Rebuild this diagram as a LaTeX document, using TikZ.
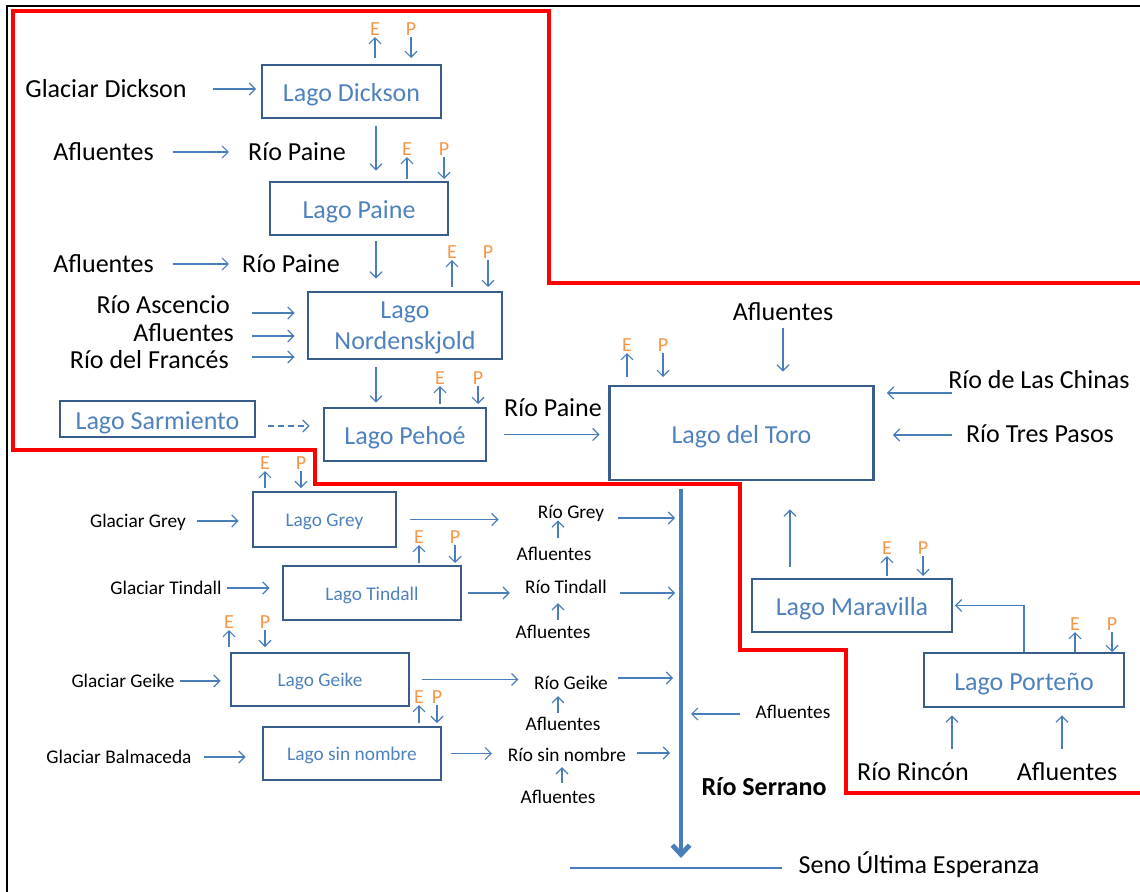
\documentclass[tikz,border=0pt]{standalone}
\usepackage{fontspec}
\setmainfont{Carlito}
\usepackage{tikz}
\usetikzlibrary{arrows.meta}

\definecolor{borde}{RGB}{56,93,138}
\definecolor{lagotxt}{RGB}{79,129,189}
\definecolor{flecha}{RGB}{74,126,187}
\definecolor{evap}{RGB}{247,150,70}
\newcommand{\grande}{\fontsize{19.5pt}{23pt}\selectfont}
\newcommand{\chico}{\fontsize{14.5pt}{17pt}\selectfont}
\newcommand{\letra}{\fontsize{15pt}{17pt}\selectfont}

\begin{document}
\begin{tikzpicture}[x=0.75pt,y=-0.75pt,
  >={Straight Barb[length=4.5pt,width=9pt]},
  flujo/.style={->,draw=flecha,line width=0.9pt},
  tronco/.style={-{Straight Barb[length=7pt,width=13pt]},draw=flecha,line width=3.6pt},
  lago/.style 2 args={draw=borde,line width=2.2pt,text=lagotxt,align=center,
    minimum width=#1*0.75pt,minimum height=#2*0.75pt,inner sep=0pt,font=\grande,
    text height=16pt,text depth=0.8pt},
  lagochico/.style={font=\chico,text height=11.5pt,text depth=0.5pt},
  texto/.style={inner sep=0pt,text height=15pt,text depth=2pt,font=\grande},
  txtchico/.style={inner sep=0pt,text height=11pt,text depth=1.25pt,font=\chico},
  ep/.style={text=evap,inner sep=1pt,font=\letra}]
\useasboundingbox (0,0) rectangle (1140,892);
\draw[line width=1.5pt] (7,892) -- (7,6) -- (1140,6);
\draw[red,line width=2.4pt] (1140,283) -- (549,283) -- (549,11) -- (13,11) -- (13,450)
  -- (315,450) -- (315,484) -- (740,484) -- (740,650) -- (846,650) -- (846,793) -- (1140,793);

\node[lago={179}{53}] (ldickson) at (351.5,91.5) {Lago Dickson};
\node[lago={178}{53}] (lpaine) at (359,208.5) {Lago Paine};
\node[lago={194}{67},text height=37.5pt,text depth=1.3pt] (lnorden) at (405,325.5) {Lago\\Nordenskjold};
\node[lago={195}{36}] (lsarm) at (157.5,419) {Lago Sarmiento};
\node[lago={162}{53}] (lpehoe) at (405,434.5) {Lago Pehoé};
\node[lago={264}{94}] (ltoro) at (741.5,433) {Lago del Toro};
\node[lago={143}{55},lagochico] (lgrey) at (324.5,519.5) {Lago Grey};
\node[lago={178}{54},lagochico] (ltindall) at (372,593) {Lago Tindall};
\node[lago={178}{53},lagochico] (lgeike) at (320,679.5) {Lago Geike};
\node[lago={178}{53},lagochico] (lsin) at (352,753.5) {Lago sin nombre};
\node[lago={200}{53}] (lmarav) at (852,605.5) {Lago Maravilla};
\node[lago={200}{54}] (lporte) at (1024,680) {Lago Porteño};

\node[texto] (gdickson) at (106,89) {Glaciar Dickson};
\node[texto] (afl1) at (103.5,152) {Afluentes};
\node[texto] (rpaine1) at (297,152) {Río Paine};
\node[texto] (afl2) at (103.5,264) {Afluentes};
\node[texto] (rpaine2) at (291,264) {Río Paine};
\node[texto,anchor=east] (rascen) at (230,305) {Río Ascencio};
\node[texto,anchor=east] (aflno) at (234,333) {Afluentes};
\node[texto,anchor=east] (rfrances) at (229,360) {Río del Francés};
\node[texto] (rpaine3) at (553,408) {Río Paine};
\node[texto] (aflto) at (783,312) {Afluentes};
\node[texto] (rchinas) at (1039,380) {Río de Las Chinas};
\node[texto] (rtres) at (1040,434) {Río Tres Pasos};
\node[texto] (rrincon) at (913,772) {Río Rincón};
\node[texto] (aflpo) at (1067,772) {Afluentes};
\node[texto,font=\grande\bfseries] (rserrano) at (764,787) {Río Serrano};
\node[texto] (seno) at (919,865) {Seno Última Esperanza};

\node[txtchico] (ggrey) at (138,521) {Glaciar Grey};
\node[txtchico] (rgrey) at (571,512) {Río Grey};
\node[txtchico] (aflgr) at (554,554) {Afluentes};
\node[txtchico] (gtindall) at (166,588) {Glaciar Tindall};
\node[txtchico] (rtindall) at (566,587) {Río Tindall};
\node[txtchico] (afltin) at (553,632) {Afluentes};
\node[txtchico] (ggeike) at (123,681) {Glaciar Geike};
\node[txtchico] (rgeike) at (571,683) {Río Geike};
\node[txtchico] (aflge) at (563,724) {Afluentes};
\node[txtchico] (gbalma) at (119,757) {Glaciar Balmaceda};
\node[txtchico] (rsin) at (567,755) {Río sin nombre};
\node[txtchico] (aflsin) at (558,797) {Afluentes};
\node[txtchico] (afltr) at (793,712) {Afluentes};

\foreach \n/\xe/\xp/\ya/\yl in {ldickson/375/411/58/29, lpaine/407/444/179/149,
    lnorden/452/488/287/252, lpehoe/440/478/404/378, ltoro/627/663/377/345,
    lgrey/265/301/488/463, ltindall/419/455/563/537, lgeike/229/265/647/622,
    lsin/419/437/723/697, lmarav/887/923/576/548, lporte/1075/1112/652/624}{
  \node[ep] (e\n) at (\xe,\yl) {E};
  \node[ep] (p\n) at (\xp,\yl) {P};
  \coordinate (be\n) at (\xe,\ya);
  \coordinate (bp\n) at (\xp,\ya);
  \draw[flujo] (be\n) -- (e\n);
  \draw[flujo] (p\n) -- (bp\n);
}

\coordinate (eje) at (376,0);
\coordinate (rs) at (681,858);
\draw[flujo,shorten <=19.5pt,shorten >=3.4pt] (gdickson.east) -- (gdickson.east -| ldickson.west);
\draw[flujo,shorten <=5.25pt,shorten >=7.5pt] (eje |- ldickson.south) -- (eje |- lpaine.north);
\draw[flujo,shorten <=3.75pt,shorten >=9pt] (eje |- lpaine.south) -- (eje |- lnorden.north);
\draw[flujo,shorten <=5.25pt,shorten >=3pt] (eje |- lnorden.south) -- (eje |- lpehoe.north);
\draw[flujo,shorten <=14.25pt,shorten >=14.25pt] (afl1) -- (rpaine1);
\draw[flujo,shorten <=14.25pt,shorten >=9.75pt] (afl2) -- (rpaine2);
\draw[flujo] ([shift={(22,8)}]rascen.east) -- ([shift={(-12,8)}]rascen.east -| lnorden.west);
\draw[flujo] ([shift={(18,3)}]aflno.east) -- ([shift={(-12,3)}]aflno.east -| lnorden.west);
\draw[flujo] ([shift={(23,-3)}]rfrances.east) -- ([shift={(-12,-3)}]rfrances.east -| lnorden.west);
\draw[flujo,dash pattern=on 4.5pt off 3pt] ([shift={(12,7)}]lsarm.east) -- ([shift={(-13,7)}]lsarm.east -| lpehoe.west);
\draw[flujo,shorten <=12.75pt,shorten >=6.4pt] (lpehoe.east) -- (lpehoe.east -| ltoro.west);
\draw[flujo,shorten <=3.5pt,shorten >=9.75pt] (aflto.south) -- (aflto.south |- ltoro.north);
\draw[flujo] ([shift={(4,13)}]rchinas.west) -- ([shift={(12,13)}]rchinas.west -| ltoro.east);
\draw[flujo] ([shift={(-14,1)}]rtres.west) -- ([shift={(18,1)}]rtres.west -| ltoro.east);

\draw[tronco,shorten <=6pt] (rs |- ltoro.south) -- (rs);
\draw[draw=flecha,line width=1pt] ([shift={(-16,3)}]seno.west) -- ++(-212,0);

\draw[flujo,shorten <=8.25pt,shorten >=9.75pt] (ggrey.east) -- (ggrey.east -| lgrey.west);
\draw[flujo,shorten <=9.75pt,shorten >=29.25pt] (lgrey.east) -- (lgrey.east -| rgrey.west);
\draw[flujo] ([shift={(14,6)}]rgrey.east) -- ([shift={(-6,6)}]rgrey.east -| rs);
\draw[flujo,shorten <=5.8pt] ([xshift=3pt]aflgr.north) -- ([xshift=3pt]aflgr.north |- rgrey.south);

\draw[flujo,shorten <=3.5pt,shorten >=9pt] (gtindall.east) -- (gtindall.east -| ltindall.west);
\draw[flujo,shorten <=4.5pt,shorten >=11.25pt] (ltindall.east) -- (ltindall.east -| rtindall.west);
\draw[flujo] ([shift={(13,6)}]rtindall.east) -- ([shift={(-6,6)}]rtindall.east -| rs);
\draw[flujo,shorten <=2.8pt,shorten >=5.8pt] ([xshift=3.75pt]afltin.north) -- ([xshift=3.75pt]afltin.north |- rtindall.south);

\draw[flujo,shorten <=3.75pt,shorten >=6.75pt] (ggeike.east) -- (ggeike.east -| lgeike.west);
\draw[flujo,shorten <=9pt,shorten >=11.7pt] (lgeike.east) -- (lgeike.east -| rgeike.west);
\draw[flujo] ([shift={(10,-5)}]rgeike.east) -- ([shift={(-8,-5)}]rgeike.east -| rs);
\draw[flujo,shorten <=2pt,shorten >=3.5pt] ([xshift=-3.75pt]aflge.north) -- ([xshift=-3.75pt]aflge.north |- rgeike.south);

\draw[flujo,shorten <=9.4pt,shorten >=12pt] (gbalma.east) -- (gbalma.east -| lsin.west);
\draw[flujo,shorten <=6.75pt,shorten >=11.8pt] (lsin.east) -- (lsin.east -| rsin.west);
\draw[flujo] ([shift={(11,-2)}]rsin.east) -- ([shift={(-11,-2)}]rsin.east -| rs);
\draw[flujo,shorten <=4.3pt,shorten >=2.8pt] ([xshift=3pt]aflsin.north) -- ([xshift=3pt]aflsin.north |- rsin.south);

\draw[flujo] ([shift={(-15,2)}]afltr.west) -- ([shift={(10,2)}]afltr.west -| rs);

\draw[flujo,shorten <=8.25pt,shorten >=21pt] ([xshift=-46.5pt]lmarav.north) -- ([xshift=-46.5pt]lmarav.north |- ltoro.south);
\draw[flujo,shorten >=1pt] (lporte.north) |- (lmarav.east);
\draw[flujo,shorten <=8.8pt,shorten >=5.25pt] ([xshift=29.25pt]rrincon.north) -- ([xshift=29.25pt]rrincon.north |- lporte.south);
\draw[flujo,shorten <=8.8pt,shorten >=5.25pt] ([xshift=-3.75pt]aflpo.north) -- ([xshift=-3.75pt]aflpo.north |- lporte.south);
\end{tikzpicture}
\end{document}
